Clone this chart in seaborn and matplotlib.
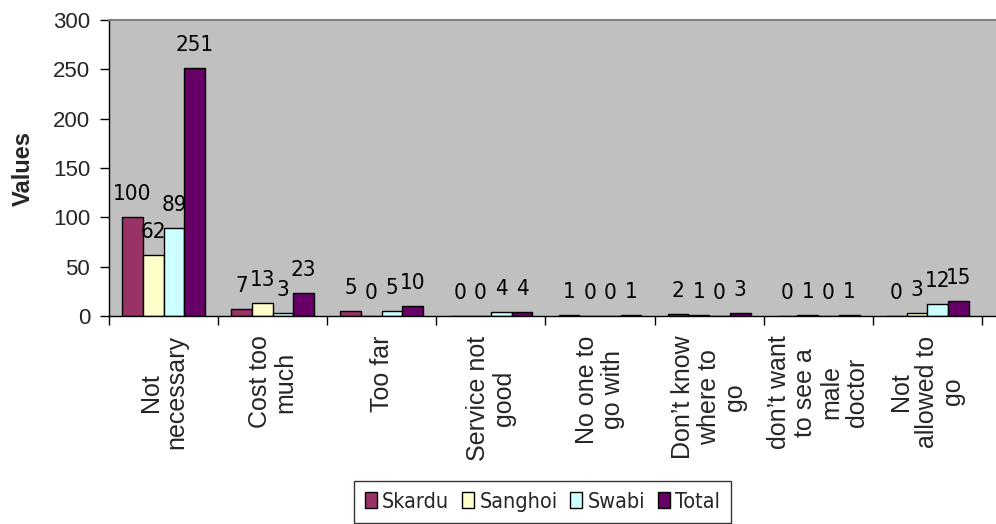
import matplotlib
matplotlib.use("Agg")
import matplotlib.pyplot as plt
from matplotlib import font_manager as fm
from matplotlib.patches import Patch
import seaborn as sns
import pandas as pd
import numpy as np

categories = [
    "Not\nnecessary",
    "Cost too\nmuch",
    "Too far",
    "Service not\ngood",
    "No one to\ngo with",
    "Don\u2019t know\nwhere to\ngo",
    "don\u2019t want\nto see a\nmale\ndoctor",
    "Not\nallowed to\ngo",
]
series = ["Skardu", "Sanghoi", "Swabi", "Total"]
skardu = [100, 7, 5, 0, 1, 2, 0, 0]
sanghoi = [62, 13, 0, 0, 0, 1, 1, 3]
swabi = [89, 3, 5, 4, 0, 0, 0, 12]
total = [251, 23, 10, 4, 1, 3, 1, 15]
y_ticks = [0, 50, 100, 150, 200, 250, 300]

colors = ["#993366", "#FFFFCC", "#CCFFFF", "#660066"]

sns.set_theme(style="white")
plt.rcParams["font.family"] = ["Liberation Sans", "DejaVu Sans"]


def narrow_font(size):
    """Pick a condensed sans face if one is installed, else plain Liberation Sans."""
    best = None
    for f in fm.fontManager.ttflist:
        name = f.name.lower()
        path = f.fname.lower()
        narrowish = (f.stretch in ("condensed", "semi-condensed", "extra-condensed")
                     or "narrow" in name or "condensed" in name
                     or "condensed" in path or "narrow" in path)
        if not narrowish or f.style != "normal":
            continue
        if str(f.weight) not in ("400", "normal", "regular", "book"):
            continue
        if "serif" in name and "sans" not in name:
            continue
        if "mono" in name:
            continue
        best = f.fname
        if "liberation" in name or "sans" in name:
            break
    if best:
        return fm.FontProperties(fname=best, size=size)
    return fm.FontProperties(family="Liberation Sans", size=size)


values = [skardu, sanghoi, swabi, total]
df = pd.DataFrame({
    "Reason": [c for _ in series for c in categories],
    "Area": [s for s in series for _ in categories],
    "Count": [v for vals in values for v in vals],
})

fig = plt.figure(figsize=(9.96, 5.24), dpi=100)
ax = fig.add_axes([109 / 996, 1 - 316 / 524, (996 - 109) / 996, (316 - 20) / 524])
ax.set_facecolor("#C0C0C0")

sns.barplot(
    data=df, x="Reason", y="Count", hue="Area", order=categories,
    hue_order=series, palette=colors, width=0.76, edgecolor="black",
    linewidth=1.0, saturation=1, legend=False, ax=ax,
)

label_font = narrow_font(16)
# value labels above each bar
for container in ax.containers:
    for bar in container:
        h = bar.get_height()
        ax.annotate(
            f"{int(round(h))}", (bar.get_x() + bar.get_width() / 2, h),
            xytext=(0, 9.5), textcoords="offset points", ha="center",
            va="bottom", fontproperties=label_font, color="black",
        )

ax.set_ylim(0, 300)
ax.set_xlim(-0.5, 7.63)
ax.set_yticks(y_ticks)
ax.set_yticklabels([str(t) for t in y_ticks], fontsize=16)
ax.set_ylabel("Values", fontsize=17, fontweight="bold")
ax.yaxis.set_label_coords(-0.084, 0.5)
ax.set_xlabel("")

ax.set_xticks(range(len(categories)))
ax.set_xticklabels(categories, rotation=90, ha="center", va="top",
                   multialignment="center", fontsize=18, linespacing=1.1)
ax.set_xticks(np.arange(-0.5, len(categories)), minor=True)
ax.tick_params(axis="x", which="major", length=0, pad=14)
ax.tick_params(axis="x", which="minor", length=6.5, width=1, color="black",
               direction="out", bottom=True)
ax.tick_params(axis="y", length=6.5, width=1, color="black", direction="out",
               left=True, pad=7)

for side in ("left", "bottom"):
    ax.spines[side].set_color("black")
    ax.spines[side].set_linewidth(1.0)
ax.spines["top"].set_color("#808080")
ax.spines["top"].set_linewidth(1.5)
ax.spines["right"].set_visible(False)

handles = [Patch(facecolor=c, edgecolor="black", linewidth=1.0) for c in colors]
leg = fig.legend(
    handles, series, loc="upper left", bbox_to_anchor=(354 / 996, 1 - 481 / 524),
    ncol=4, frameon=True, fancybox=False, handlelength=0.55, handleheight=0.75,
    handletextpad=0.25, columnspacing=0.6, borderpad=0.5, borderaxespad=0,
    prop=narrow_font(15.5),
)
leg.get_frame().set_edgecolor("black")
leg.get_frame().set_linewidth(1.0)

fig.savefig("out.png", dpi=100)
